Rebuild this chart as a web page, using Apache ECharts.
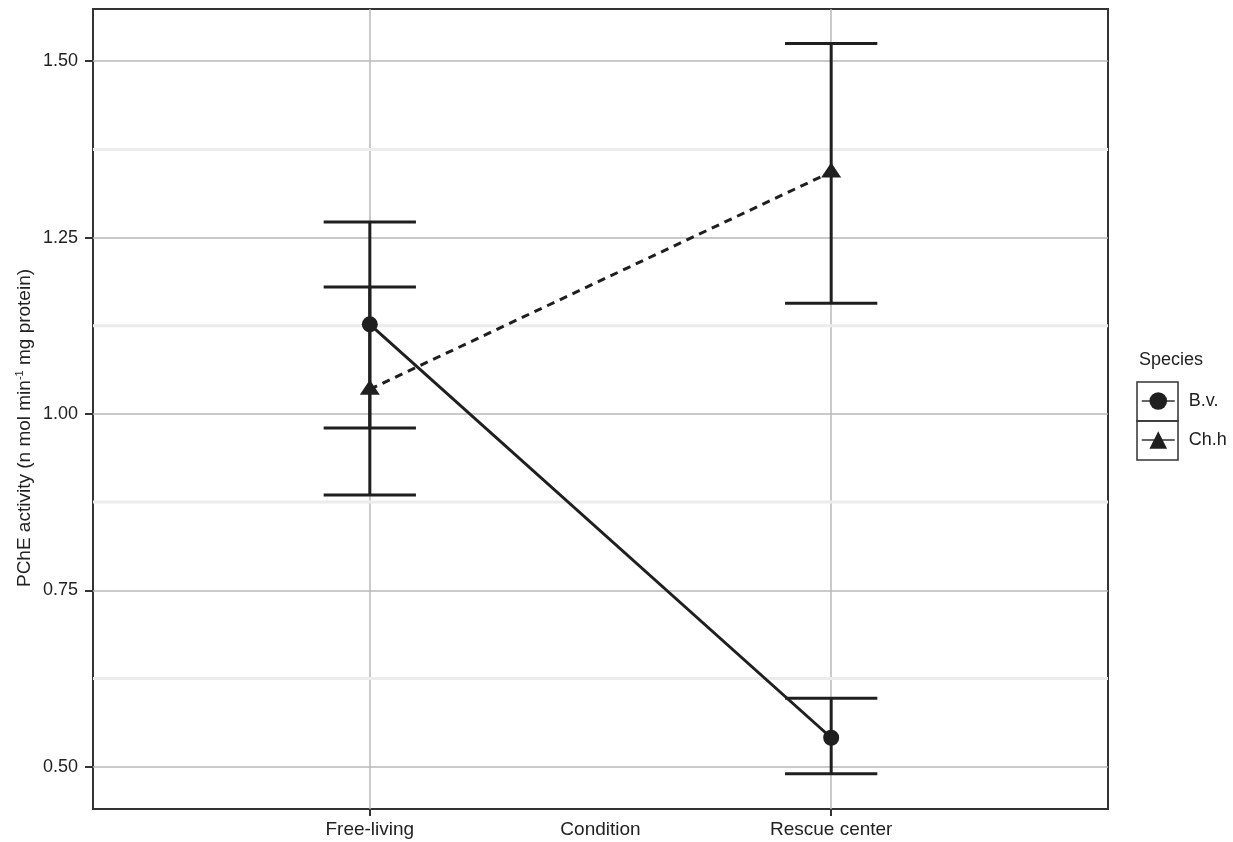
<!DOCTYPE html>
<html><head><meta charset="utf-8">
<script src="https://cdn.jsdelivr.net/npm/echarts@6/dist/echarts.min.js"></script>
<style>html,body{margin:0;padding:0;background:#fff}#c{width:1233px;height:842px}</style>
</head><body><div id="c"></div>
<script>
const categories = ['Free-living', 'Rescue center'];
const seriesNames = ['B.v.', 'Ch.h'];
const bvMean = [1.127, 0.541];
const bvLow = [0.980, 0.490];
const bvHigh = [1.272, 0.597];
const chMean = [1.035, 1.343];
const chLow = [0.885, 1.157];
const chHigh = [1.180, 1.525];
const yTicks = [0.5, 0.75, 1.0, 1.25, 1.5];
const yMinor = [0.625, 0.875, 1.125, 1.375];
const capHalf = 0.1;

const ink = '#1f1f1f';
const triPath = 'path://M0,15 L10,0 L20,15 Z';
const errData = [];
categories.forEach((c, i) => {
  errData.push([i, bvLow[i], bvHigh[i]]);
  errData.push([i, chLow[i], chHigh[i]]);
});

const chart = echarts.init(document.getElementById('c'));
chart.setOption({
  animation: false,
  backgroundColor: '#fff',
  grid: { left: 93, right: 125, top: 9, bottom: 33, show: true, borderColor: '#333', borderWidth: 2, backgroundColor: 'transparent', containLabel: false, outerBoundsMode: 'none' },
  xAxis: {
    type: 'value', min: -0.6, max: 1.6,
    axisLine: { show: false, onZero: false },
    axisTick: { show: true, customValues: [0, 1], length: 7, lineStyle: { color: '#333', width: 2 } },
    axisLabel: { customValues: [0, 1], formatter: v => categories[Math.round(v)], fontSize: 19, color: '#222', margin: 11, fontFamily: 'Liberation Sans' },
    splitLine: { show: true, lineStyle: { color: '#b8b8b8', width: 1.5 } },
    name: 'Condition', nameLocation: 'middle', nameGap: 11, nameMoveOverlap: false,
    nameTextStyle: { fontSize: 19, color: '#222', verticalAlign: 'top', fontFamily: 'Liberation Sans' }
  },
  yAxis: {
    type: 'value', min: 0.44, max: 1.574,
    axisLine: { show: false, onZero: false },
    axisTick: { show: true, customValues: yTicks, length: 8, lineStyle: { color: '#333', width: 2 } },
    axisLabel: { customValues: yTicks, formatter: v => v.toFixed(2), fontSize: 18, color: '#222', margin: 15, fontFamily: 'Liberation Sans' },
    splitLine: { show: true, lineStyle: { color: '#b8b8b8', width: 1.5 } },
    name: '{a|PChE activity (n mol min}{s|-1}{a| mg protein)}',
    nameLocation: 'middle', nameGap: 57, nameRotate: 90, nameMoveOverlap: false,
    nameTextStyle: {
      padding: [0, 38, 0, 0],
      rich: {
        a: { fontSize: 19, color: '#222', fontFamily: 'Liberation Sans', lineHeight: 22 },
        s: { fontSize: 11, color: '#222', fontFamily: 'Liberation Sans', verticalAlign: 'top', lineHeight: 22 }
      }
    }
  },
  legend: {
    orient: 'vertical', left: 1141, top: 390, padding: 0,
    itemWidth: 33, itemHeight: 22, itemGap: 17,
    data: seriesNames,
    textStyle: { fontSize: 18, lineHeight: 22, color: '#222', fontFamily: 'Liberation Sans', padding: [0, 0, 0, 9] },
    lineStyle: { type: 'solid', width: 1.5, color: '#333' }
  },
  graphic: [
    { type: 'text', left: 1139, top: 351, style: { text: 'Species', fontSize: 18, fill: '#222', fontFamily: 'Liberation Sans' } },
    { type: 'rect', shape: { x: 1137, y: 382, width: 41, height: 39 }, style: { fill: 'none', stroke: '#333', lineWidth: 1.5 }, z: 100 },
    { type: 'rect', shape: { x: 1137, y: 421, width: 41, height: 39 }, style: { fill: 'none', stroke: '#333', lineWidth: 1.5 }, z: 100 }
  ],
  series: [
    {
      type: 'custom', name: 'minorGrid', silent: true, z: 0,
      data: yMinor.map(v => [v]),
      renderItem: (params, api) => {
        const v = api.value(0);
        const p1 = api.coord([-0.6, v]);
        const p2 = api.coord([1.6, v]);
        return { type: 'line', shape: { x1: p1[0], y1: p1[1], x2: p2[0], y2: p2[1] }, style: { stroke: '#ececec', lineWidth: 3 } };
      }
    },
    {
      type: 'custom', name: 'errorbars', silent: true, z: 3,
      data: errData,
      renderItem: (params, api) => {
        const x = api.value(0), lo = api.value(1), hi = api.value(2);
        const pl = api.coord([x, lo]), ph = api.coord([x, hi]);
        const l1 = api.coord([x - capHalf, lo]), r1 = api.coord([x + capHalf, lo]);
        const l2 = api.coord([x - capHalf, hi]), r2 = api.coord([x + capHalf, hi]);
        const st = { stroke: ink, lineWidth: 3 };
        return { type: 'group', children: [
          { type: 'line', shape: { x1: pl[0], y1: pl[1], x2: ph[0], y2: ph[1] }, style: st },
          { type: 'line', shape: { x1: l1[0], y1: l1[1], x2: r1[0], y2: r1[1] }, style: st },
          { type: 'line', shape: { x1: l2[0], y1: l2[1], x2: r2[0], y2: r2[1] }, style: st }
        ] };
      }
    },
    {
      type: 'line', name: seriesNames[0], z: 4,
      data: bvMean.map((v, i) => [i, v]),
      symbol: 'circle', symbolSize: 16,
      lineStyle: { color: ink, width: 3, type: 'solid' },
      itemStyle: { color: ink }
    },
    {
      type: 'line', name: seriesNames[1], z: 4,
      data: chMean.map((v, i) => [i, v]),
      symbol: triPath, symbolSize: [20, 15], symbolOffset: [0, -2],
      lineStyle: { color: ink, width: 3, type: [8, 6] },
      itemStyle: { color: ink }
    }
  ]
});
</script>
</body></html>
